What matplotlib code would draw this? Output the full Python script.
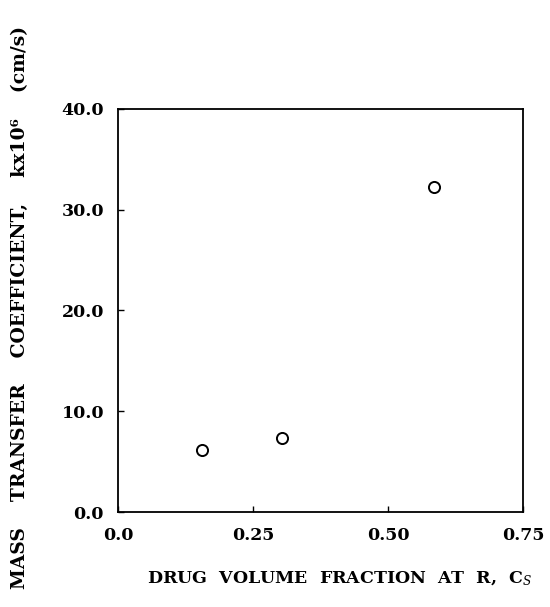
import matplotlib
matplotlib.use("Agg")
import matplotlib.pyplot as plt

# drug volume fraction at R and mass transfer coefficient (x10^6 cm/s)
cs = [0.155, 0.304, 0.585]
k = [6.2, 7.3, 32.3]

x_ticks = [0.0, 0.25, 0.50, 0.75]
x_labels = ["0.0", "0.25", "0.50", "0.75"]
y_ticks = [0.0, 10.0, 20.0, 30.0, 40.0]
y_labels = ["0.0", "10.0", "20.0", "30.0", "40.0"]

plt.rcParams['font.family'] = ['DejaVu Serif']
plt.rcParams['mathtext.fontset'] = 'dejavuserif'

fig = plt.figure(figsize=(5.5, 6.07), dpi=100)
ax = fig.add_axes([0.2145, 0.1565, 0.7365, 0.664])

ax.plot(cs, k, linestyle='none', marker='o', markersize=8,
        markerfacecolor='white', markeredgecolor='black', markeredgewidth=1.4)

ax.set_xlim(0, 0.75)
ax.set_ylim(0, 40)
ax.set_xticks(x_ticks)
ax.set_xticklabels(x_labels)
ax.set_yticks(y_ticks)
ax.set_yticklabels(y_labels)
ax.tick_params(direction='in', length=4, width=1, labelsize=12.5)
ax.tick_params(axis='x', pad=11)
ax.tick_params(axis='y', pad=10)
for lab in ax.get_xticklabels() + ax.get_yticklabels():
    lab.set_fontweight('bold')
for sp in ax.spines.values():
    sp.set_linewidth(1.3)

fig.text(0.618, 0.047, r"DRUG  VOLUME  FRACTION  AT  R,  C$_{\mathit{S}}$",
         ha='center', va='center', fontsize=12.5, fontweight='bold')
fig.text(0.036, 0.494, "MASS    TRANSFER    COEFFICIENT,    kx10⁶    (cm/s)",
         ha='center', va='center', rotation=90, fontsize=13.5, fontweight='bold')

fig.savefig("out.png", dpi=100)
